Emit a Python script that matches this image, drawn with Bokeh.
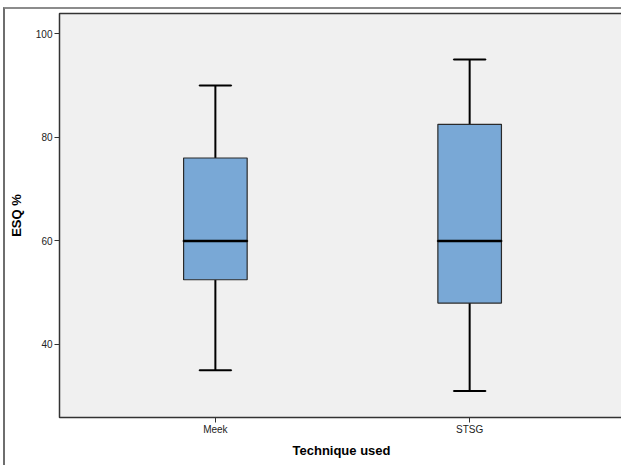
from bokeh.plotting import figure
from bokeh.models import Range1d, FixedTicker, ColumnDataSource
from bokeh.embed import file_html
from bokeh.resources import INLINE

categories = ["Meek", "STSG"]
whisker_low = [35, 31]
q1 = [52.5, 48]
median = [60, 60]
q3 = [76, 82.5]
whisker_high = [90, 95]
y_ticks = [40, 60, 80, 100]

xs = [i + 1 for i in range(len(categories))]
src = ColumnDataSource(dict(x=xs, lo=whisker_low, q1=q1, med=median, q3=q3, hi=whisker_high))

p = figure(width=618, height=458, output_backend="svg", toolbar_location=None,
           x_range=Range1d(0.387, 2.605), y_range=Range1d(25.9, 103.9),
           min_border_left=50, min_border_top=4, min_border_right=0, min_border_bottom=50)
p.background_fill_color = "#F0F0F0"
p.border_fill_color = "white"
p.outline_line_color = "#333333"
p.outline_line_width = 1.5
p.xgrid.visible = False
p.ygrid.visible = False
p.styles = {"border-left": "2px solid #6e6e6e", "border-top": "2px solid #8c8c8c",
            "margin-left": "3px", "margin-top": "7px"}

# whiskers
p.segment(x0="x", y0="q3", x1="x", y1="hi", source=src, line_color="black", line_width=2)
p.segment(x0="x", y0="lo", x1="x", y1="q1", source=src, line_color="black", line_width=2)
p.vbar(x="x", width=0.25, bottom="q1", top="q3", source=src,
       fill_color="#79A8D6", line_color="#2a2a2a", line_width=1.2)
p.rect(x="x", y="hi", width=0.125, height=0.001, source=src, line_color="black", line_width=2)
p.rect(x="x", y="lo", width=0.125, height=0.001, source=src, line_color="black", line_width=2)
p.rect(x="x", y="med", width=0.25, height=0.001, source=src, line_color="black", line_width=2.5)

p.xaxis.ticker = FixedTicker(ticks=xs)
p.xaxis.major_label_overrides = {x: c for x, c in zip(xs, categories)}
p.yaxis.ticker = FixedTicker(ticks=y_ticks)
for ax in (p.xaxis[0], p.yaxis[0]):
    ax.axis_line_color = None
    ax.minor_tick_line_color = None
    ax.major_tick_line_color = "#333333"
    ax.major_tick_out = 5
    ax.major_tick_in = 0
    ax.major_label_text_font = "Liberation Sans"
    ax.major_label_text_font_size = "10px"
    ax.major_label_text_color = "#222222"
    ax.axis_label_text_font = "Liberation Sans"
    ax.axis_label_text_font_style = "bold"
    ax.axis_label_text_font_size = "13px"
    ax.axis_label_text_color = "black"
p.xaxis.axis_label = "Technique used"
p.yaxis.axis_label = "ESQ %"
p.xaxis.major_label_standoff = 1
p.yaxis.major_label_standoff = 2
p.xaxis.axis_label_standoff = 5
p.yaxis.axis_label_standoff = 9

open("out.html", "w").write(file_html(p, INLINE))
